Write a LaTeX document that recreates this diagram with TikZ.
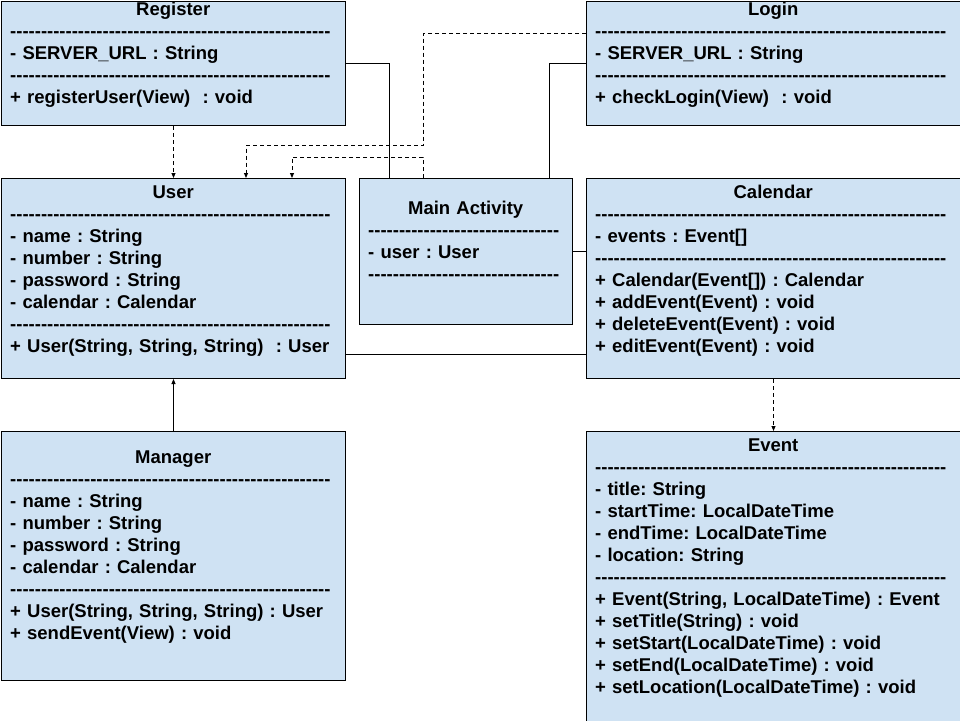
\documentclass[tikz,border=0pt]{standalone}
\usepackage{fontspec}
\setmainfont{Liberation Sans}
\usetikzlibrary{arrows.meta}

\definecolor{boxblue}{RGB}{207,226,243}
% a row of separate hyphens (kern keeps them from joining)
\newcommand\dashrow[1]{\foreach \k in {1,...,#1}{-\kern0pt}}
\newcommand\toprow[1]{\makebox[\linewidth]{\rule{0pt}{15pt}#1}}

\tikzset{
  classbox/.style 2 args={draw, fill=boxblue, line width=1pt, anchor=north west,
    inner sep=0pt, minimum width=#1, minimum height=#2},
  classtext/.style={anchor=north west, inner sep=0pt, text width=#1, align=left,
    font=\fontsize{18.5}{22}\selectfont\bfseries\frenchspacing},
  link/.style={line width=0.9pt},
  dep/.style={line width=0.9pt, dash pattern=on 4pt off 3pt},
  tip/.style={-{Triangle[length=5pt,width=4pt]}}
}

\begin{document}
\begin{tikzpicture}[x=1pt, y=-1pt]
\useasboundingbox (0,0) rectangle (960,720);
%%%%%%%%%%%%%%%%%%%%%%%%%%%%%%%
% classes
%%%%%%%%%%%%%%%%%%%%%%%%%%%%%%%
\node [classbox={344pt}{124.5pt}] (register) at (1,0.5) {};
\node [classtext=326pt] at ([xshift=9pt]register.north west) {\toprow{Register}\\
  \dashrow{52}\\
  - SERVER\_URL : String\\
  \dashrow{52}\\
  + registerUser(View)\ \ : void};
%
\node [classbox={374pt}{124.5pt}] (login) at (586,0.5) {};
\node [classtext=356pt] at ([xshift=9pt]login.north west) {\toprow{Login}\\
  \dashrow{57}\\
  - SERVER\_URL : String\\
  \dashrow{57}\\
  + checkLogin(View)\ \ : void};
%
\node [classbox={344pt}{200pt}] (user) at (1,178) {};
\node [classtext=326pt] at ([xshift=9pt,yshift=-5.5pt]user.north west) {\toprow{User}\\
  \dashrow{52}\\
  - name : String\\
  - number : String\\
  - password : String\\
  - calendar : Calendar\\
  \dashrow{52}\\
  + User(String, String, String)\ \ : User};
%
\node [classbox={213pt}{146pt}] (main) at (359,178) {};
\node [classtext=195pt] at ([xshift=9pt,yshift=-21pt]main.north west) {\toprow{Main Activity}\\
  \dashrow{31}\\
  - user : User\\
  \dashrow{31}};
%
\node [classbox={374pt}{200pt}] (calendar) at (586,178) {};
\node [classtext=356pt] at ([xshift=9pt,yshift=-5.5pt]calendar.north west) {\toprow{Calendar}\\
  \dashrow{57}\\
  - events : Event[]\\
  \dashrow{57}\\
  + Calendar(Event[]) : Calendar\\
  + addEvent(Event) : void\\
  + deleteEvent(Event) : void\\
  + editEvent(Event) : void};
%
\node [classbox={344pt}{249pt}] (manager) at (1,431) {};
\node [classtext=326pt] at ([xshift=9pt,yshift=-17pt]manager.north west) {\toprow{Manager}\\
  \dashrow{52}\\
  - name : String\\
  - number : String\\
  - password : String\\
  - calendar : Calendar\\
  \dashrow{52}\\
  + User(String, String, String) : User\\
  + sendEvent(View) : void};
%
\node [classbox={374pt}{295pt}] (event) at (586,431) {};
\node [classtext=356pt] at ([xshift=9pt,yshift=-5.5pt]event.north west) {\toprow{Event}\\
  \dashrow{57}\\
  - title: String\\
  - startTime: LocalDateTime\\
  - endTime: LocalDateTime\\
  - location: String\\
  \dashrow{57}\\
  + Event(String, LocalDateTime) : Event\\
  + setTitle(String) : void\\
  + setStart(LocalDateTime) : void\\
  + setEnd(LocalDateTime) : void\\
  + setLocation(LocalDateTime) : void};
%%%%%%%%%%%%%%%%%%%%%%%%%%%%%%%
% connectors
%%%%%%%%%%%%%%%%%%%%%%%%%%%%%%%
\coordinate (loginout) at ([yshift=-33pt]login.north west);
\coordinate (bendA) at ([xshift=64pt,yshift=33pt]main.north west);
\coordinate (userlink) at ([yshift=25pt]user.south east);
%
\draw [dep, tip] (register.south) -- (user.north);
\draw [dep, tip] (calendar.south) -- (event.north);
\draw [link, tip] (manager.north) -- (user.south);
\draw [dep, tip] (loginout) -| (bendA) -| ([xshift=245pt]user.north west);
\draw [dep, tip] ([xshift=64pt]main.north west) -- ++(0,-21) -| ([xshift=291pt]user.north west);
%
\draw [link] (register.east) -| ([xshift=30pt]main.north west);
\draw [link] (login.west) -| ([xshift=-24pt]main.north east);
\draw [link] (main.east) -- (main.east -| calendar.west);
\draw [link] (userlink) -- (userlink -| calendar.west);
\end{tikzpicture}
\end{document}
